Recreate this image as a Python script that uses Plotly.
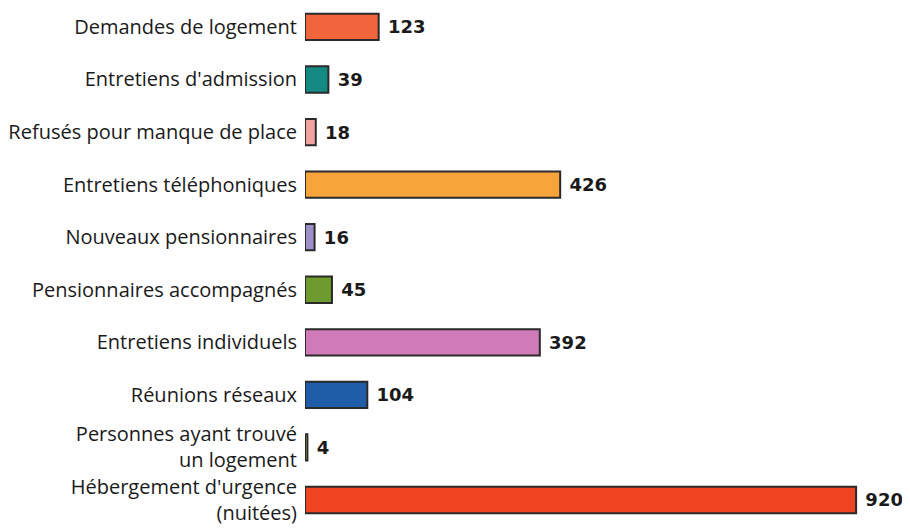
import plotly.graph_objects as go

categories = [
    "Demandes de logement",
    "Entretiens d'admission",
    "Refusés pour manque de place",
    "Entretiens téléphoniques",
    "Nouveaux pensionnaires",
    "Pensionnaires accompagnés",
    "Entretiens individuels",
    "Réunions réseaux",
    "Personnes ayant trouvé<br>un logement",
    "Hébergement d'urgence<br>(nuitées)",
]
values = [123, 39, 18, 426, 16, 45, 392, 104, 4, 920]
colors = [
    "#F0653C", "#138A82", "#F2A3A0", "#F7A53A", "#9E8FC8",
    "#6E9B2E", "#D07AB8", "#1F5DA8", "#9CC84A", "#EE4422",
]

fig = go.Figure(
    go.Bar(
        x=values,
        y=categories,
        orientation="h",
        marker=dict(color=colors, line=dict(color="#2a2a2a", width=2)),
        width=0.5,
        text=values,
        texttemplate="\u00a0%{x}",
        textposition="outside",
        textfont=dict(family="DejaVu Sans", size=18, color="#1a1a1a", weight="bold"),
        cliponaxis=False,
    )
)

fig.update_layout(
    width=902,
    height=523,
    margin=dict(l=297, r=0, t=0, b=0),
    paper_bgcolor="#fefefe",
    plot_bgcolor="#fefefe",
    showlegend=False,
    xaxis=dict(range=[0, 1010], visible=False, showgrid=False, zeroline=False),
    yaxis=dict(
        range=[9.59, -0.36],
        showgrid=False,
        zeroline=False,
        showline=False,
        ticks="",
        ticklabelstandoff=7,
        tickfont=dict(family="Open Sans", size=20, color="#1a1a1a"),
        automargin=False,
    ),
)

fig.write_html("out.html")
